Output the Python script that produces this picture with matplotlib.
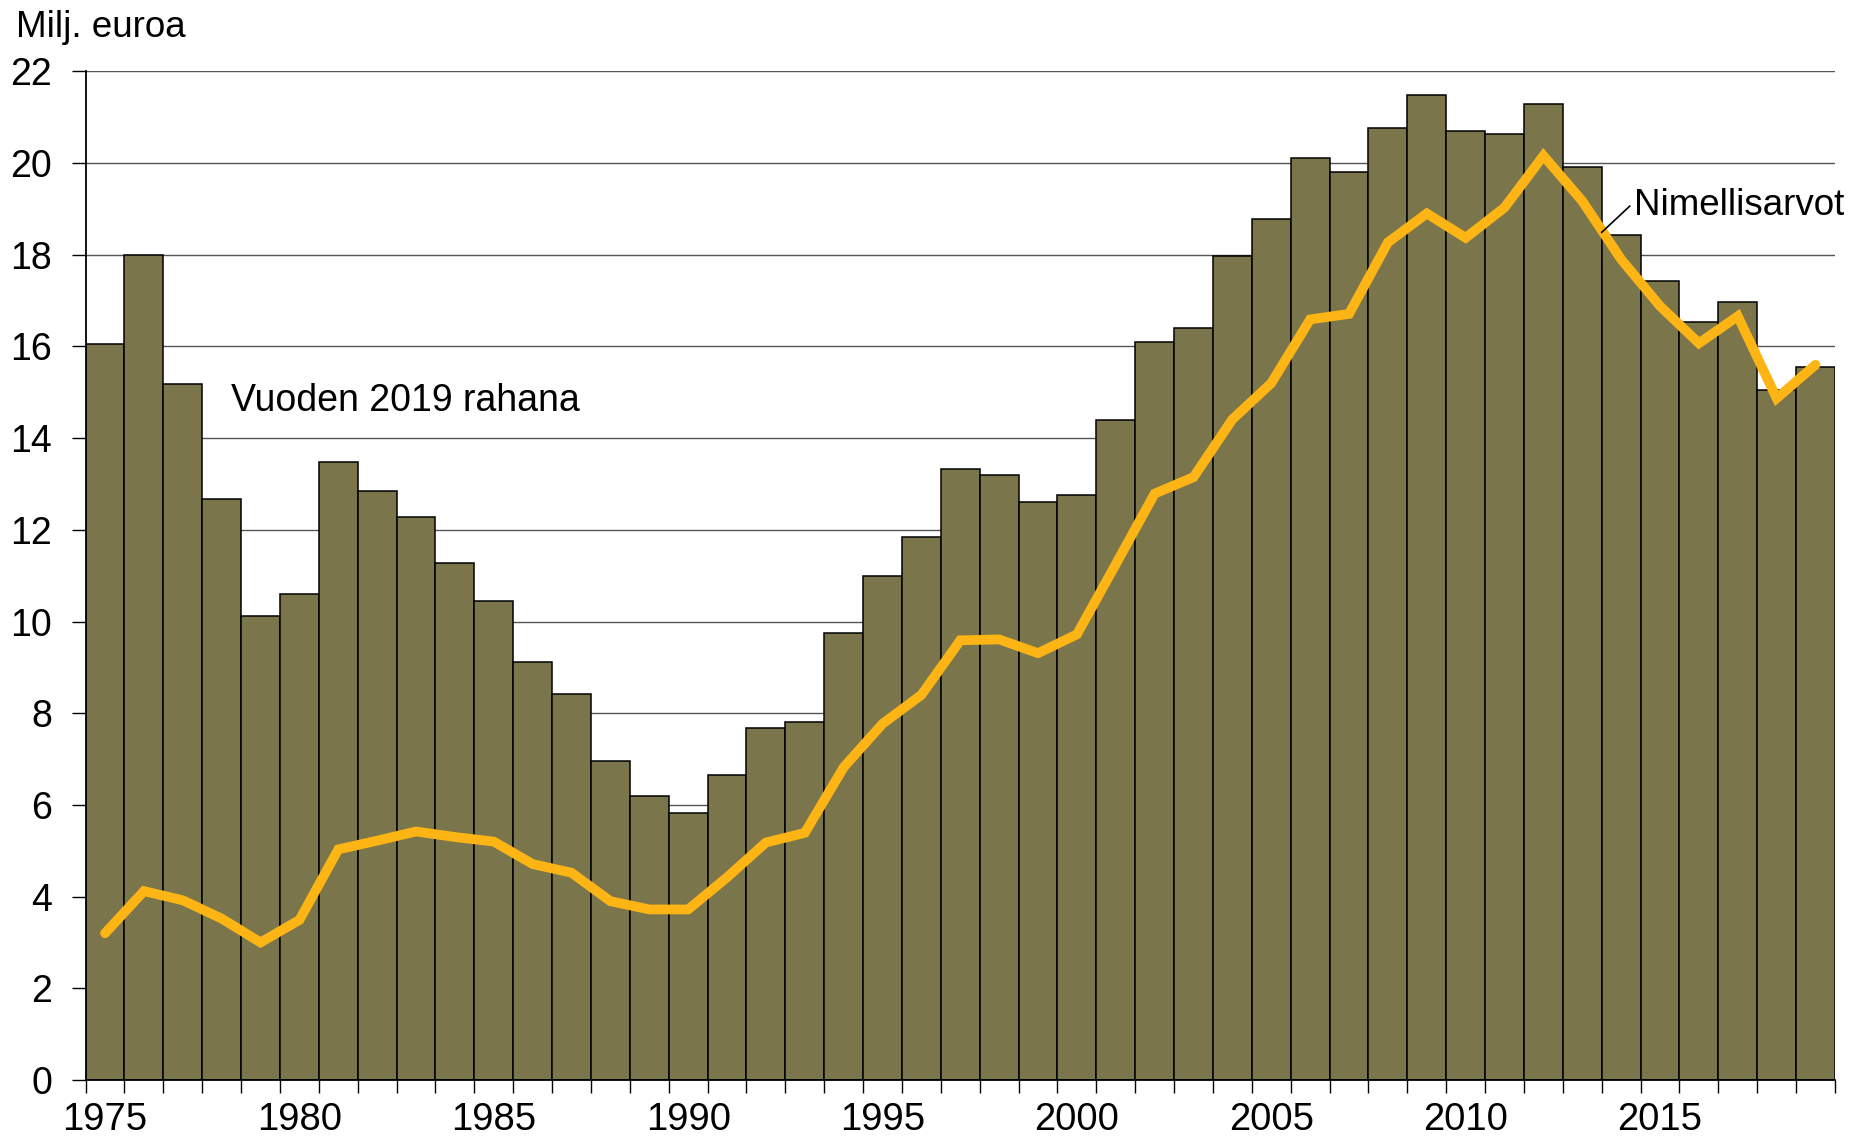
import matplotlib.pyplot as plt
import numpy as np

plt.rcParams['font.family'] = ['Liberation Sans', 'DejaVu Sans']

# data
years = list(range(1975, 2020))
real_2019 = [16.05, 17.99, 15.18, 12.67, 10.12, 10.59, 13.49, 12.85, 12.28, 11.27,
             10.45, 9.12, 8.42, 6.96, 6.19, 5.83, 6.66, 7.67, 7.80, 9.76,
             11.00, 11.85, 13.33, 13.19, 12.60, 12.75, 14.40, 16.10, 16.40, 17.98,
             18.77, 20.12, 19.80, 20.76, 21.49, 20.70, 20.64, 21.29, 19.91, 18.43,
             17.42, 16.53, 16.97, 15.05, 15.56]
nominal = [3.20, 4.12, 3.92, 3.52, 3.00, 3.49, 5.03, 5.22, 5.42, 5.30,
           5.20, 4.71, 4.52, 3.90, 3.72, 3.72, 4.42, 5.18, 5.39, 6.82,
           7.77, 8.40, 9.59, 9.61, 9.31, 9.72, 11.25, 12.79, 13.15, 14.41,
           15.20, 16.59, 16.71, 18.27, 18.90, 18.37, 19.03, 20.16, 19.17, 17.90,
           16.88, 16.07, 16.66, 14.87, 15.60]
label_years = [1975, 1980, 1985, 1990, 1995, 2000, 2005, 2010, 2015]
y_ticks = list(range(0, 23, 2))

fig = plt.figure(figsize=(18.65, 11.42), dpi=100)
ax = fig.add_axes([0.0459, 0.0543, 0.9380, 0.8832])

ax.bar(years, real_2019, width=1.0, color='#7A754A', edgecolor='black',
       linewidth=1.1, zorder=2)
ax.plot(years, nominal, color='#FDB515', linewidth=7, solid_capstyle='round',
        solid_joinstyle='miter', zorder=3)

ax.set_xlim(1974.5, 2019.5)
ax.set_ylim(0, 22)

ax.set_yticks(y_ticks)
ax.yaxis.grid(True, color='#555555', linewidth=1.0, zorder=0)
ax.set_axisbelow(True)

ax.set_xticks(label_years)
ax.set_xticks(np.arange(1974.5, 2020, 1.0), minor=True)
ax.tick_params(axis='x', which='major', length=0, pad=16, labelsize=27.5)
ax.tick_params(axis='x', which='minor', length=9, width=1.0, direction='out')
ax.tick_params(axis='y', length=10, width=1.0, direction='out', pad=14,
               labelsize=27)

for s in ['top', 'right']:
    ax.spines[s].set_visible(False)
for s in ['left', 'bottom']:
    ax.spines[s].set_linewidth(1.3)

fig.text(0.0084, 0.976, 'Milj. euroa', fontsize=26.5, va='center', ha='left')
ax.text(1978.24, 14.8, 'Vuoden 2019 rahana', fontsize=27, va='center', ha='left')
ax.text(2014.32, 19.08, 'Nimellisarvot', fontsize=26.5, va='center', ha='left',
        clip_on=False)
ax.plot([2014.22, 2013.5], [19.06, 18.49], color='black', linewidth=1.2, zorder=4)

plt.savefig('out.png', dpi=100)
